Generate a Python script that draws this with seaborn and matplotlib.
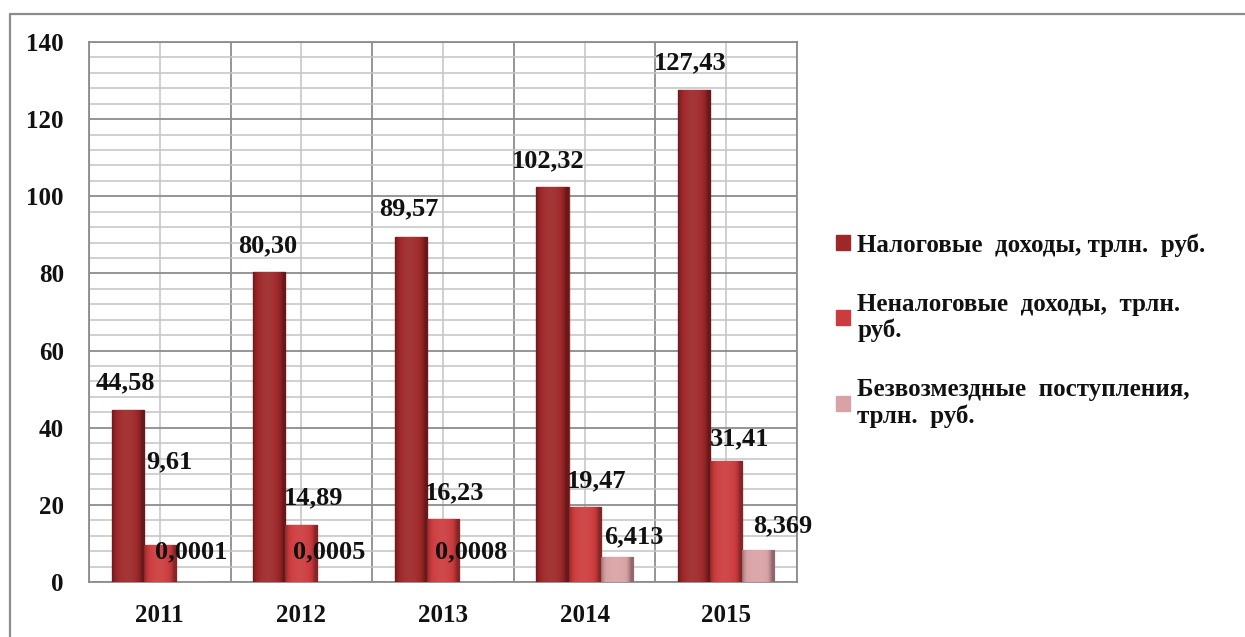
import numpy as np
import pandas as pd
import matplotlib
matplotlib.use("Agg")
import matplotlib.pyplot as plt
import seaborn as sns
from matplotlib.ticker import MultipleLocator, FixedLocator
from matplotlib.lines import Line2D
from matplotlib.patches import Rectangle
from matplotlib.colors import to_rgb

# ---------------- data ----------------
years = ["2011", "2012", "2013", "2014", "2015"]
tax = [44.58, 80.30, 89.57, 102.32, 127.43]
nontax = [9.61, 14.89, 16.23, 19.47, 31.41]
grants = [0.0001, 0.0005, 0.0008, 6.413, 8.369]
tax_lbl = ["44,58", "80,30", "89,57", "102,32", "127,43"]
nontax_lbl = ["9,61", "14,89", "16,23", "19,47", "31,41"]
grants_lbl = ["0,0001", "0,0005", "0,0008", "6,413", "8,369"]
series = ["Налоговые  доходы, трлн.  руб.",
          "Неналоговые  доходы,  трлн.\nруб.",
          "Безвозмездные  поступления,\nтрлн.  руб."]

# ---------------- styles ----------------
colors = ["#9E2729", "#CC3B3D", "#D9A2A5"]
# label offsets in pixels (dx, dy) from bar top centre
offsets = [
    [(-2, 27), (-2, 26), (-2, 28), (-4, 27), (-4, 28)],
    [(10, 83), (12, 27), (12, 27), (12, 26), (13, 22)],
    [(-1, 30), (-4, 30), (-4, 30), (17, 20), (24, 24)],
]
serif = "Liberation Serif"

df = pd.DataFrame({
    "year": years * 3,
    "value": tax + nontax + grants,
    "series": [series[0]] * 5 + [series[1]] * 5 + [series[2]] * 5,
})

sns.set_style("white")
plt.rcParams["font.family"] = [serif, "DejaVu Serif"]

fig = plt.figure(figsize=(12.45, 6.37), dpi=100)
ax = fig.add_axes([89 / 1245, 1 - 582 / 637, (797 - 89) / 1245, (582 - 42) / 637])

sns.barplot(data=df, x="year", y="value", hue="series", order=years,
            hue_order=series, palette=colors, width=0.68, errorbar=None,
            legend=False, ax=ax, saturation=1, linewidth=1.0, zorder=3)

# gradient shading for a pseudo-3D look
def shade(base, n=64):
    r, g, b = to_rgb(base)
    rgb = np.array([r, g, b])
    t = np.linspace(0, 1, n)
    prof = np.sin(np.pi * np.clip(t * 1.1, 0, 1)) ** 0.6
    arr = np.zeros((1, n, 4))
    for i, f in enumerate(prof):
        k = -0.35 + 0.55 * f
        if k >= 0:
            c = rgb + (1 - rgb) * k * 0.35
        else:
            c = rgb * (1 + k)
        arr[0, i, :3] = c
        arr[0, i, 3] = 1
    return arr

for cont, col in zip(ax.containers, colors):
    img = shade(col)
    for p in cont.patches:
        p.set_edgecolor(col)
        x0, y0 = p.get_x(), p.get_y()
        w, h = p.get_width(), p.get_height()
        if h < 0.5:
            continue
        im = ax.imshow(img, extent=[x0, x0 + w, y0, y0 + h], aspect="auto",
                       zorder=3.5, interpolation="bicubic")
        im.set_clip_path(p)

# data labels
for cont, labels, offs in zip(ax.containers, [tax_lbl, nontax_lbl, grants_lbl], offsets):
    for p, lab, (dx, dy) in zip(cont.patches, labels, offs):
        ax.annotate(lab, (p.get_x() + p.get_width() / 2, p.get_height()),
                    xytext=(dx, dy), textcoords="offset pixels",
                    ha="center", va="center", fontsize=19, color="#111111",
                    family=serif, fontweight="bold", zorder=6)

# axes
ax.set_xlim(-0.5, 4.5)
ax.set_ylim(0, 140)
ax.yaxis.set_major_locator(MultipleLocator(20))
ax.yaxis.set_minor_locator(MultipleLocator(4))
ax.xaxis.set_major_locator(FixedLocator(range(5)))
ax.xaxis.set_minor_locator(FixedLocator(np.arange(-0.5, 5, 1)))
ax.set_xticklabels(years)
ax.set_xlabel("")
ax.set_ylabel("")

ax.grid(which="major", axis="y", color="#8c8c8c", lw=1.3, zorder=0)
ax.grid(which="minor", axis="y", color="#c4c4c4", lw=1.1, zorder=0)
ax.grid(which="major", axis="x", color="#c4c4c4", lw=1.1, zorder=0)
ax.grid(which="minor", axis="x", color="#8c8c8c", lw=1.3, zorder=0)
ax.set_axisbelow(True)

for s in ax.spines.values():
    s.set_color("#8c8c8c")
    s.set_linewidth(1.3)
    s.set_visible(True)

ax.tick_params(axis="y", which="major", length=5, width=1.3, color="#8c8c8c",
               pad=13, labelsize=18)
ax.tick_params(axis="y", which="minor", length=0)
ax.tick_params(axis="x", which="major", length=0, pad=16, labelsize=18)
ax.tick_params(axis="x", which="minor", length=8, width=1.3, color="#8c8c8c")
for t in ax.get_xticklabels() + ax.get_yticklabels():
    t.set_fontweight("bold")
    t.set_color("#111111")

# legend
handles = [Rectangle((0, 0), 1, 1, facecolor=c, edgecolor=c) for c in colors]
leg = ax.legend(handles, series, loc="upper left",
                bbox_to_anchor=(836 / 1245, 1 - 233 / 637),
                bbox_transform=fig.transFigure, frameon=False,
                prop={"family": serif, "weight": "bold", "size": 18},
                handlelength=0.55, handleheight=0.55, handletextpad=0.3,
                labelspacing=1.45, borderpad=0, borderaxespad=0)
for t in leg.get_texts():
    t.set_linespacing(1.15)
    t.set_color("#111111")

# outer border (top & left visible)
fig.add_artist(Line2D([10 / 1245, 1], [1 - 14 / 637, 1 - 14 / 637],
                      transform=fig.transFigure, color="#8c8c8c", lw=1.6))
fig.add_artist(Line2D([10 / 1245, 10 / 1245], [0, 1 - 14 / 637],
                      transform=fig.transFigure, color="#8c8c8c", lw=1.6))

fig.savefig("out.png", dpi=100, facecolor="white")
